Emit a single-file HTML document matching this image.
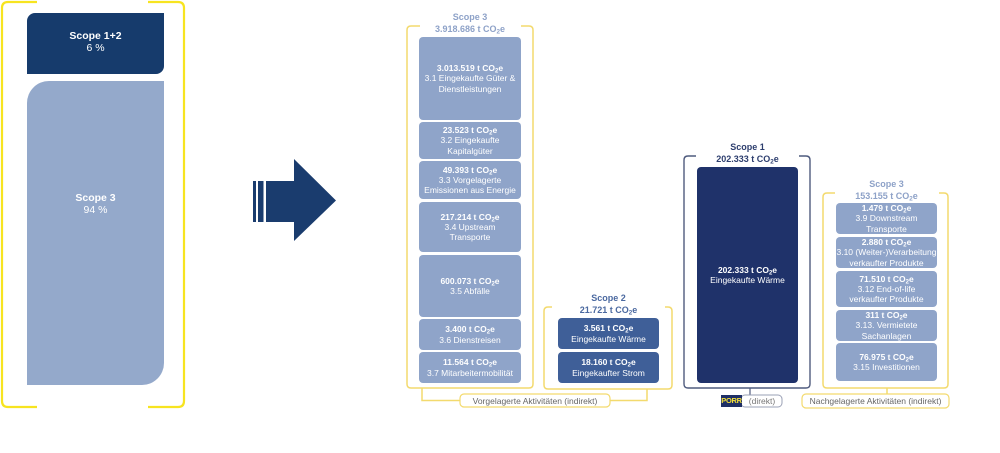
<!DOCTYPE html>
<html><head><meta charset="utf-8"><style>
*{margin:0;padding:0;box-sizing:border-box}
body{width:1000px;height:453px;background:#fff;position:relative;overflow:hidden;font-family:"Liberation Sans",Arial,sans-serif}
.a{position:absolute}
.bx{position:absolute;display:flex;flex-direction:column;justify-content:center;align-items:center;text-align:center;color:#fff;font-size:8.5px;line-height:10.3px;border-radius:4px;white-space:nowrap}
.lt{background:#8fa4c9}
.md{background:#3f5f98}
.bx b{font-weight:bold}
sub{font-size:0.7em;line-height:0;vertical-align:-0.25em}
.hd{position:absolute;text-align:center;font-weight:bold;font-size:9px;line-height:12px;white-space:nowrap}
.lbl{position:absolute;font-size:8.5px;color:#666;text-align:center;white-space:nowrap}
</style></head><body>

<svg class="a" style="left:0;top:0" width="1000" height="453">
  <!-- left panel bracket -->
  <path d="M37,2 H8 Q2,2 2,8 V401 Q2,407 8,407 H37" fill="none" stroke="#f7e420" stroke-width="2.2"/>
  <path d="M148,2 H178 Q184,2 184,8 V401 Q184,407 178,407 H148" fill="none" stroke="#f7e420" stroke-width="2.2"/>
  <!-- arrow -->
  <rect x="253" y="181" width="3" height="41" fill="#1a3c6e"/>
  <rect x="258" y="181" width="5.5" height="41" fill="#1a3c6e"/>
  <polygon points="266,181 294,181 294,159 336,200.5 294,241 294,222 266,222" fill="#1a3c6e"/>
  <!-- middle scope3 bracket -->
  <path d="M420,26 H411 Q407,26 407,30 V384 Q407,388 411,388 H529 Q533,388 533,384 V30 Q533,26 529,26 H521" fill="none" stroke="#f3da6e" stroke-width="1.5"/>
  <!-- scope2 bracket -->
  <path d="M552,307 H548 Q544,307 544,311 V385 Q544,389 548,389 H668 Q672,389 672,385 V311 Q672,307 668,307 H665" fill="none" stroke="#f3da6e" stroke-width="1.5"/>
  <!-- vorgelagerte connector -->
  <path d="M422,388 V400.5 H460 M610,400.5 H647 V389" fill="none" stroke="#f3da6e" stroke-width="1.5"/>
  <rect x="460" y="394" width="150" height="13" rx="4" fill="#fff" stroke="#f3da6e" stroke-width="1.2"/>
  <!-- scope1 bracket -->
  <path d="M696,156 H688 Q684,156 684,160 V384 Q684,388 688,388 H806 Q810,388 810,384 V160 Q810,156 806,156 H799" fill="none" stroke="#4f5b7e" stroke-width="1.4"/>
  <path d="M750,388 V395" stroke="#4f5b7e" stroke-width="1.2"/>
  <rect x="741" y="395" width="41" height="12" rx="4" fill="#fff" stroke="#9aa0b5" stroke-width="1"/>
  <rect x="721" y="395" width="21" height="12" fill="#1e2f66"/>
  <!-- right scope3 bracket -->
  <path d="M835,193 H827 Q823,193 823,197 V384 Q823,388 827,388 H944 Q948,388 948,384 V197 Q948,193 944,193 H939" fill="none" stroke="#f3da6e" stroke-width="1.5"/>
  <path d="M887,388 V394" stroke="#f3da6e" stroke-width="1.5"/>
  <rect x="802" y="394" width="147" height="14" rx="4" fill="#fff" stroke="#f3da6e" stroke-width="1.2"/>
</svg>

<!-- left panel -->
<div class="a" style="left:27px;top:13px;width:137px;height:61px;background:#163b6c;border-radius:8px 0 8px 0"></div>
<div class="a" style="left:27px;top:30px;width:137px;text-align:center;color:#fff;font-size:10.5px;line-height:12px"><b>Scope 1+2</b><br>6 %</div>
<div class="a" style="left:27px;top:81px;width:137px;height:304px;background:#94a9cb;border-radius:22px 0 22px 0"></div>
<div class="a" style="left:27px;top:192px;width:137px;text-align:center;color:#fff;font-size:10.5px;line-height:12px"><b>Scope 3</b><br>94 %</div>

<!-- middle scope 3 -->
<div class="hd" style="left:420px;top:11px;width:100px;color:#8ea2c8">Scope 3<br>3.918.686 t CO<sub>2</sub>e</div>
<div class="bx lt" style="left:419px;top:37px;width:102px;height:83px"><b>3.013.519 t CO<sub>2</sub>e</b>3.1 Eingekaufte Güter &amp;<br>Dienstleistungen</div>
<div class="bx lt" style="left:419px;top:122px;width:102px;height:37px"><b>23.523 t CO<sub>2</sub>e</b>3.2 Eingekaufte<br>Kapitalgüter</div>
<div class="bx lt" style="left:419px;top:161px;width:102px;height:38px"><b>49.393 t CO<sub>2</sub>e</b>3.3 Vorgelagerte<br>Emissionen aus Energie</div>
<div class="bx lt" style="left:419px;top:202px;width:102px;height:50px"><b>217.214 t CO<sub>2</sub>e</b>3.4 Upstream<br>Transporte</div>
<div class="bx lt" style="left:419px;top:255px;width:102px;height:62px"><b>600.073 t CO<sub>2</sub>e</b>3.5 Abfälle</div>
<div class="bx lt" style="left:419px;top:319px;width:102px;height:31px"><b>3.400 t CO<sub>2</sub>e</b>3.6 Dienstreisen</div>
<div class="bx lt" style="left:419px;top:352px;width:102px;height:31px"><b>11.564 t CO<sub>2</sub>e</b>3.7 Mitarbeitermobilität</div>
<div class="lbl" style="left:460px;top:395.5px;width:150px;line-height:11px">Vorgelagerte Aktivitäten (indirekt)</div>

<!-- scope 2 -->
<div class="hd" style="left:558px;top:292px;width:101px;color:#4b69a0">Scope 2<br>21.721 t CO<sub>2</sub>e</div>
<div class="bx md" style="left:558px;top:318px;width:101px;height:31px"><b>3.561 t CO<sub>2</sub>e</b>Eingekaufte Wärme</div>
<div class="bx md" style="left:558px;top:352px;width:101px;height:31px"><b>18.160 t CO<sub>2</sub>e</b>Eingekaufter Strom</div>

<!-- scope 1 -->
<div class="hd" style="left:697px;top:141px;width:101px;color:#2d3e6e">Scope 1<br>202.333 t CO<sub>2</sub>e</div>
<div class="bx" style="left:697px;top:167px;width:101px;height:216px;background:#1f326a"><b>202.333 t CO<sub>2</sub>e</b>Eingekaufte Wärme</div>
<div class="a" style="left:721px;top:396px;width:21px;text-align:center;font-size:7.5px;line-height:10px;font-weight:bold;color:#f3e03a;letter-spacing:-0.3px">PORR</div>
<div class="lbl" style="left:742px;top:396px;width:40px;line-height:10px;color:#777">(direkt)</div>

<!-- right scope 3 -->
<div class="hd" style="left:836px;top:178px;width:101px;color:#8ea2c8">Scope 3<br>153.155 t CO<sub>2</sub>e</div>
<div class="bx lt" style="left:836px;top:203px;width:101px;height:31px"><b>1.479 t CO<sub>2</sub>e</b>3.9 Downstream<br>Transporte</div>
<div class="bx lt" style="left:836px;top:237px;width:101px;height:31px"><b>2.880 t CO<sub>2</sub>e</b>3.10 (Weiter-)Verarbeitung<br>verkaufter Produkte</div>
<div class="bx lt" style="left:836px;top:271px;width:101px;height:36px"><b>71.510 t CO<sub>2</sub>e</b>3.12 End-of-life<br>verkaufter Produkte</div>
<div class="bx lt" style="left:836px;top:310px;width:101px;height:31px"><b>311 t CO<sub>2</sub>e</b>3.13. Vermietete<br>Sachanlagen</div>
<div class="bx lt" style="left:836px;top:343px;width:101px;height:38px"><b>76.975 t CO<sub>2</sub>e</b>3.15 Investitionen</div>
<div class="lbl" style="left:802px;top:396px;width:147px;line-height:11px">Nachgelagerte Aktivitäten (indirekt)</div>

</body></html>
